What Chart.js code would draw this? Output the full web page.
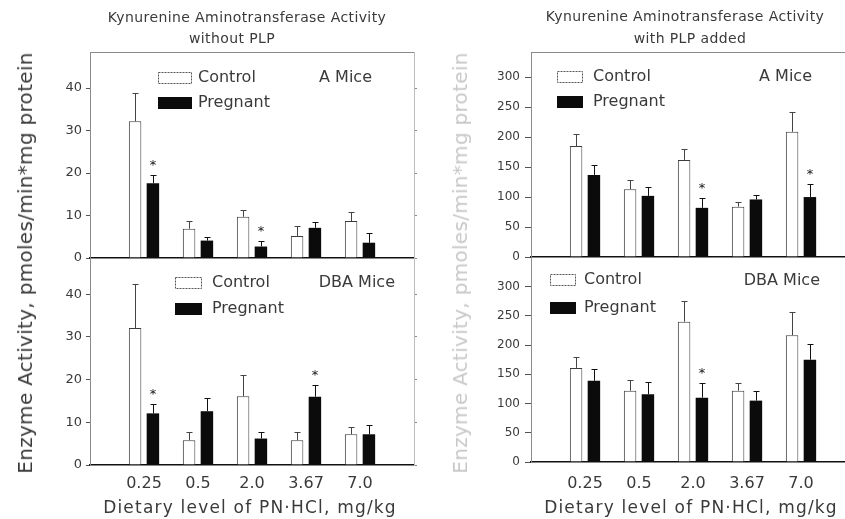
<!DOCTYPE html>
<html>
<head>
<meta charset="utf-8">
<script src="https://cdn.jsdelivr.net/npm/chart.js@4.4.1/dist/chart.umd.min.js"></script>
<style>
  html, body { margin: 0; padding: 0; background: #fff; }
  #wrap { position: relative; width: 845px; height: 519px; overflow: hidden; background: #fff;
          font-family: 'DejaVu Sans', sans-serif; color: #3a3a3a; }
  canvas { position: absolute; left: 0; top: 0; }
  .t { position: absolute; white-space: nowrap; transform: translate(-50%, -50%); line-height: 1; }
  .vy { position: absolute; white-space: nowrap; transform: translate(-50%, -50%) rotate(-90deg);
        font-size: 20px; line-height: 1; letter-spacing: 0.3px; }
</style>
</head>
<body>
<div id="wrap">
  <canvas id="tl" width="845" height="519"></canvas>
  <canvas id="bl" width="845" height="519"></canvas>
  <canvas id="tr" width="900" height="519"></canvas>
  <canvas id="br" width="900" height="519"></canvas>

  <div class="t" style="left:247px;top:17px;font-size:14px;letter-spacing:0.4px;">Kynurenine Aminotransferase Activity</div>
  <div class="t" style="left:232px;top:38px;font-size:14px;letter-spacing:0.4px;">without PLP</div>
  <div class="t" style="left:685px;top:16px;font-size:14px;letter-spacing:0.4px;">Kynurenine Aminotransferase Activity</div>
  <div class="t" style="left:690px;top:38px;font-size:14px;letter-spacing:0.4px;">with PLP added</div>

  <div class="vy" style="left:25px;top:263px;">Enzyme Activity, pmoles/min*mg protein</div>
  <div class="vy" style="left:460px;top:263px;color:#c8c8c8;">Enzyme Activity, pmoles/min*mg protein</div>

  <div class="t" style="left:250px;top:507px;font-size:17px;letter-spacing:1.2px;">Dietary level of PN·HCl, mg/kg</div>
  <div class="t" style="left:691px;top:507px;font-size:17px;letter-spacing:1.2px;">Dietary level of PN·HCl, mg/kg</div>
</div>

<script>
// ---------------- data ----------------
const doses = ['0.25', '0.5', '2.0', '3.67', '7.0'];
const seriesNames = ['Control', 'Pregnant'];

const yTicksNoPlp = [0, 10, 20, 30, 40];
const yTicksPlp = [0, 50, 100, 150, 200, 250, 300];

// A mice, without PLP
const aNoPlpControl     = [32.2, 6.9, 9.7, 5.2, 8.7];
const aNoPlpControlErr  = [6.6, 1.7, 1.6, 2.4, 2.2];
const aNoPlpPregnant    = [17.6, 4.1, 2.7, 7.1, 3.6];
const aNoPlpPregnantErr = [1.9, 0.9, 1.2, 1.3, 2.4];
const aNoPlpSig         = [true, false, true, false, false];

// DBA mice, without PLP
const dbaNoPlpControl     = [32.1, 5.8, 16.1, 5.8, 7.2];
const dbaNoPlpControlErr  = [10.2, 2.0, 5.0, 1.9, 1.6];
const dbaNoPlpPregnant    = [12.1, 12.6, 6.2, 16.0, 7.2];
const dbaNoPlpPregnantErr = [2.2, 3.0, 1.5, 2.8, 2.2];
const dbaNoPlpSig         = [true, false, false, true, false];

// A mice, with PLP added
const aPlpControl     = [185, 113, 162, 84, 209];
const aPlpControlErr  = [21, 15, 19, 8, 33];
const aPlpPregnant    = [137, 102, 82, 96, 100];
const aPlpPregnantErr = [16, 15, 17, 7, 22];
const aPlpSig         = [false, false, true, false, true];

// DBA mice, with PLP added
const dbaPlpControl     = [161, 122, 240, 122, 217];
const dbaPlpControlErr  = [19, 19, 35, 13, 40];
const dbaPlpPregnant    = [139, 116, 110, 105, 175];
const dbaPlpPregnantErr = [20, 21, 26, 17, 27];
const dbaPlpSig         = [false, false, true, false, false];

// ---------------- drawing ----------------
const FONT = "'DejaVu Sans', sans-serif";
const TEXT = '#3a3a3a';

const panelDeco = {
  id: 'panelDeco',
  afterDatasetsDraw(chart, args, opts) {
    const ctx = chart.ctx, ys = chart.scales.y, a = chart.chartArea;
    ctx.save();
    chart.data.datasets.forEach((ds, di) => {
      const meta = chart.getDatasetMeta(di);
      meta.data.forEach((bar, i) => {
        const v = ds.data[i], e = ds.errors[i];
        if (v == null || e == null) return;
        const x = Math.round(bar.x) + 0.5;
        const yTop = Math.round(ys.getPixelForValue(v + e)) + 0.5;
        ctx.strokeStyle = ds.errorColor;
        ctx.lineWidth = 1;
        ctx.setLineDash([]);
        ctx.beginPath();
        ctx.moveTo(x, bar.y);
        ctx.lineTo(x, yTop);
        ctx.moveTo(x - 3, yTop);
        ctx.lineTo(x + 3, yTop);
        ctx.stroke();
        if (ds.sig && ds.sig[i]) {
          ctx.fillStyle = '#111';
          ctx.font = '13px ' + FONT;
          ctx.textAlign = 'center';
          ctx.textBaseline = 'alphabetic';
          ctx.fillText('*', bar.x, yTop - 14 + 7);
        }
      });
    });
    // legend inside the panel
    ctx.font = '16px ' + FONT;
    ctx.textBaseline = 'middle';
    chart.data.datasets.forEach((ds, i) => {
      const cy = a.top + opts.ly[i];
      const bx = a.left + opts.lx;
      ctx.fillStyle = ds.backgroundColor;
      ctx.fillRect(bx, Math.round(cy - opts.boxH / 2), opts.boxW, opts.boxH);
      if (ds.borderWidth) {
        ctx.strokeStyle = '#555';
        ctx.lineWidth = 1;
        ctx.setLineDash([2, 1]);
        ctx.strokeRect(bx + 0.5, Math.round(cy - opts.boxH / 2) + 0.5, opts.boxW - 1, opts.boxH - 1);
        ctx.setLineDash([]);
      }
      ctx.fillStyle = TEXT;
      ctx.textAlign = 'left';
      ctx.fillText(ds.label, bx + opts.boxW + opts.gap, cy);
    });
    ctx.textAlign = 'right';
    ctx.fillStyle = TEXT;
    ctx.fillText(opts.mice, a.right - opts.miceRight, a.top + opts.miceY);
    ctx.restore();
  }
};

function makePanel(id, p) {
  const labels = ['', ...doses, ''];
  const pad = arr => [null, ...arr, null];
  const ticksArr = p.yTicks;
  return new Chart(document.getElementById(id), {
    type: 'bar',
    data: {
      labels,
      datasets: [
        { label: seriesNames[0], data: pad(p.control), errors: pad(p.controlErr), sig: null,
          backgroundColor: '#ffffff', borderColor: '#3c3c3c', borderWidth: 1, errorColor: '#444',
          categoryPercentage: 0.66, barPercentage: 0.7 },
        { label: seriesNames[1], data: pad(p.pregnant), errors: pad(p.pregnantErr), sig: pad(p.sig),
          backgroundColor: '#0b0b0b', borderColor: '#0b0b0b', borderWidth: 0, errorColor: '#111',
          categoryPercentage: 0.66, barPercentage: 0.7 }
      ]
    },
    options: {
      responsive: false,
      animation: false,
      devicePixelRatio: 1,
      layout: { padding: p.padding },
      plugins: {
        legend: { display: false },
        tooltip: { enabled: false },
        panelDeco: p.legend
      },
      scales: {
        x: {
          type: 'category', position: 'bottom', offset: false,
          grid: { display: false, drawTicks: false },
          border: { display: true, color: '#111', width: 1.5 },
          ticks: { display: p.showX, autoSkip: false, maxRotation: 0, padding: p.xPad,
                   color: TEXT, font: { family: FONT, size: 16 } },
          afterFit: s => { s.height = p.xH; }
        },
        xTop: {
          type: 'category', position: 'top', offset: false, labels,
          grid: { display: false, drawTicks: false },
          border: { display: p.topBorder, color: '#8a8a8a', dash: [3, 2], width: 1 },
          ticks: { display: false },
          afterFit: s => { s.height = 0; }
        },
        y: {
          type: 'linear', position: 'left', min: 0, max: p.yMax,
          afterBuildTicks: s => { s.ticks = ticksArr.map(v => ({ value: v })); },
          grid: { drawOnChartArea: false, drawTicks: true, tickLength: p.tickLen, color: '#555' },
          border: { display: true, color: '#8c8c8c', dash: [1, 2], width: 1 },
          ticks: { padding: p.yPad, color: TEXT, font: { family: FONT, size: p.yFont } },
          afterFit: s => { s.width = 60; }
        },
        yR: {
          type: 'linear', position: 'right', min: 0, max: p.yMax,
          afterBuildTicks: s => { s.ticks = ticksArr.map(v => ({ value: v })); },
          grid: { drawOnChartArea: false, drawTicks: true, tickLength: 3, color: '#888' },
          border: { display: true, color: '#bdbdbd', dash: [1, 3], width: 1 },
          ticks: { display: false },
          afterFit: s => { s.width = 0; }
        }
      }
    },
    plugins: [panelDeco]
  });
}

// top-left: A mice, without PLP
makePanel('tl', {
  control: aNoPlpControl, controlErr: aNoPlpControlErr,
  pregnant: aNoPlpPregnant, pregnantErr: aNoPlpPregnantErr, sig: aNoPlpSig,
  yMax: 48.5, yTicks: yTicksNoPlp, yFont: 13, yPad: 4, tickLen: 4,
  showX: false, xH: 0, xPad: 0, topBorder: true,
  padding: { left: 30, right: 431, top: 52, bottom: 261 },
  legend: { lx: 68, ly: [26, 51], boxW: 34, boxH: 12, gap: 6, mice: 'A Mice', miceRight: 42, miceY: 26 }
});

// bottom-left: DBA mice, without PLP
makePanel('bl', {
  control: dbaNoPlpControl, controlErr: dbaNoPlpControlErr,
  pregnant: dbaNoPlpPregnant, pregnantErr: dbaNoPlpPregnantErr, sig: dbaNoPlpSig,
  yMax: 48.5, yTicks: yTicksNoPlp, yFont: 13, yPad: 4, tickLen: 4,
  showX: true, xH: 54, xPad: 9, topBorder: false,
  padding: { left: 30, right: 431, top: 258, bottom: 0 },
  legend: { lx: 85, ly: [25, 51], boxW: 27, boxH: 12, gap: 10, mice: 'DBA Mice', miceRight: 19, miceY: 25 }
});

// top-right: A mice, with PLP added
makePanel('tr', {
  control: aPlpControl, controlErr: aPlpControlErr,
  pregnant: aPlpPregnant, pregnantErr: aPlpPregnantErr, sig: aPlpSig,
  yMax: 342, yTicks: yTicksPlp, yFont: 12, yPad: 5, tickLen: 6,
  showX: false, xH: 0, xPad: 0, topBorder: true,
  padding: { left: 471, right: 45, top: 52, bottom: 262 },
  legend: { lx: 26, ly: [25, 49.5], boxW: 26, boxH: 12, gap: 10, mice: 'A Mice', miceRight: 43, miceY: 25 }
});

// bottom-right: DBA mice, with PLP added
makePanel('br', {
  control: dbaPlpControl, controlErr: dbaPlpControlErr,
  pregnant: dbaPlpPregnant, pregnantErr: dbaPlpPregnantErr, sig: dbaPlpSig,
  yMax: 349, yTicks: yTicksPlp, yFont: 12, yPad: 5, tickLen: 6,
  showX: true, xH: 57, xPad: 12, topBorder: false,
  padding: { left: 471, right: 45, top: 258, bottom: 0 },
  legend: { lx: 19, ly: [22, 49.5], boxW: 26, boxH: 12, gap: 8, mice: 'DBA Mice', miceRight: 35, miceY: 23 }
});
</script>
</body>
</html>
